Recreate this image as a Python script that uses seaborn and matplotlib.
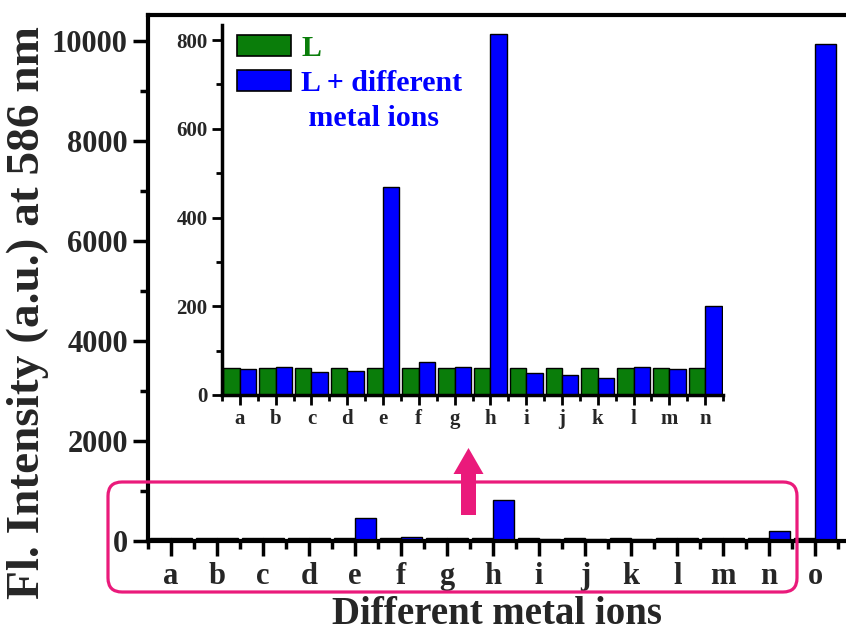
import numpy as np
import pandas as pd
import matplotlib
matplotlib.use("Agg")
import matplotlib.pyplot as plt
import seaborn as sns
from matplotlib.patches import FancyBboxPatch, FancyArrow, Patch

# ---------------- data ----------------
ions = list("abcdefghijklmno")
inset_ions = list("abcdefghijklmn")
L_only = [60, 60, 60, 60, 60, 60, 60, 60, 60, 60, 60, 60, 60, 60, 60]
L_metal = [58, 62, 51, 53, 468, 75, 64, 814, 49, 45, 39, 64, 58, 201, 9950]
series_names = ["L", "L + different metal ions"]
main_yticks = [0, 2000, 4000, 6000, 8000, 10000]
inset_yticks = [0, 200, 400, 600, 800]
colors = ["#0A7D0A", "#0000FF"]
x_label = "Different metal ions"
y_label = "Fl. Intensity (a.u.) at 586 nm"

sns.set_style("ticks")
plt.rcParams["font.family"] = ["Liberation Serif", "DejaVu Serif"]
plt.rcParams["font.weight"] = "bold"
plt.rcParams["axes.labelweight"] = "bold"

df = pd.DataFrame({
    "ion": ions * 2,
    "value": L_only + L_metal,
    "series": [series_names[0]] * len(ions) + [series_names[1]] * len(ions),
})
df_in = df[df["ion"].isin(inset_ions)]

W, H = 846, 634
fig = plt.figure(figsize=(W / 100, H / 100), dpi=100)
fig.patch.set_facecolor("white")

# ---------------- main axes ----------------
ax = fig.add_axes([148 / W, 1 - 541 / H, 1 - 148 / W, (541 - 15) / H])
sns.barplot(data=df, x="ion", y="value", hue="series", order=ions,
            hue_order=series_names, palette=colors, saturation=1,
            width=0.92, gap=0, edgecolor="black", linewidth=1.0,
            errorbar=None, legend=False, ax=ax)
ax.set_xlim(-0.5, 14.67)
ax.set_ylim(0, 10520)
ax.set_yticks(main_yticks)
ax.set_yticklabels([str(v) for v in main_yticks])
ax.set_yticks(np.arange(1000, 10001, 2000), minor=True)
ax.set_xticks(np.arange(-0.5, 15, 1), minor=True)
ax.tick_params(axis="both", which="major", direction="out", length=11,
               width=2.5, labelsize=22, color="black")
ax.tick_params(axis="both", which="minor", direction="out", length=6,
               width=2.5, color="black")
ax.tick_params(axis="x", which="major", pad=4)
for s in ["left", "bottom", "top"]:
    ax.spines[s].set_visible(True)
    ax.spines[s].set_linewidth(3)
    ax.spines[s].set_color("black")
ax.spines["right"].set_visible(False)
ax.set_xlabel(x_label, fontsize=28, fontweight="bold", labelpad=4)
ax.set_ylabel(y_label, fontsize=34, fontweight="bold", labelpad=2)
ax.yaxis.label.set_y(0.435)
ax.set_facecolor("white")

# ---------------- inset axes ----------------
ins = fig.add_axes([222 / W, 1 - 395 / H, (723 - 222) / W, (395 - 25) / H])
sns.barplot(data=df_in, x="ion", y="value", hue="series", order=inset_ions,
            hue_order=series_names, palette=colors, saturation=1,
            width=0.92, gap=0, edgecolor="black", linewidth=1.0,
            errorbar=None, legend=False, ax=ins)
ins.set_xlim(-0.5, 13.5)
ins.set_ylim(0, 834)
ins.set_yticks(inset_yticks)
ins.set_yticklabels([str(v) for v in inset_yticks])
ins.set_yticks(np.arange(100, 801, 200), minor=True)
ins.set_xticks(np.arange(-0.5, 14, 1), minor=True)
ins.tick_params(axis="both", which="major", direction="out", length=7,
                width=2, labelsize=15, color="black")
ins.tick_params(axis="both", which="minor", direction="out", length=4,
                width=2, color="black")
ins.tick_params(axis="x", which="major", pad=3)
for s in ["left", "bottom"]:
    ins.spines[s].set_linewidth(2.5)
    ins.spines[s].set_color("black")
for s in ["top", "right"]:
    ins.spines[s].set_visible(False)
ins.set_xlabel("")
ins.set_ylabel("")
ins.set_facecolor("white")

handles = [Patch(facecolor=colors[0], edgecolor="black", linewidth=1.2),
           Patch(facecolor=colors[1], edgecolor="black", linewidth=1.2),
           Patch(facecolor="none", edgecolor="none")]
labels = ["L", "L + different", " metal ions"]
leg = ins.legend(handles, labels, loc="upper left",
                 bbox_to_anchor=(0.019, 0.99), frameon=False,
                 prop={"family": "Liberation Serif", "weight": "bold", "size": 21.5},
                 labelcolor=[colors[0], colors[1], colors[1]],
                 handlelength=1.8, handleheight=0.7, handletextpad=0.34,
                 labelspacing=0.28, borderpad=0.2, borderaxespad=0.0)

# ---------------- annotation: rounded box + arrow ----------------
pink = "#EA1A7B"
box = FancyBboxPatch((1.08, 0.42), 7.97 - 1.08, 1.52 - 0.42,
                     boxstyle="round,pad=0,rounding_size=0.14",
                     transform=fig.dpi_scale_trans, facecolor="none",
                     edgecolor=pink, linewidth=2.3, zorder=10)
fig.patches.append(box)
arrow = FancyArrow(4.685, (H - 515) / 100, 0, 0.67, width=0.15,
                   head_width=0.30, head_length=0.26,
                   length_includes_head=True, transform=fig.dpi_scale_trans,
                   facecolor=pink, edgecolor=pink, linewidth=0, zorder=11)
fig.patches.append(arrow)

fig.savefig("out.png", dpi=100)
